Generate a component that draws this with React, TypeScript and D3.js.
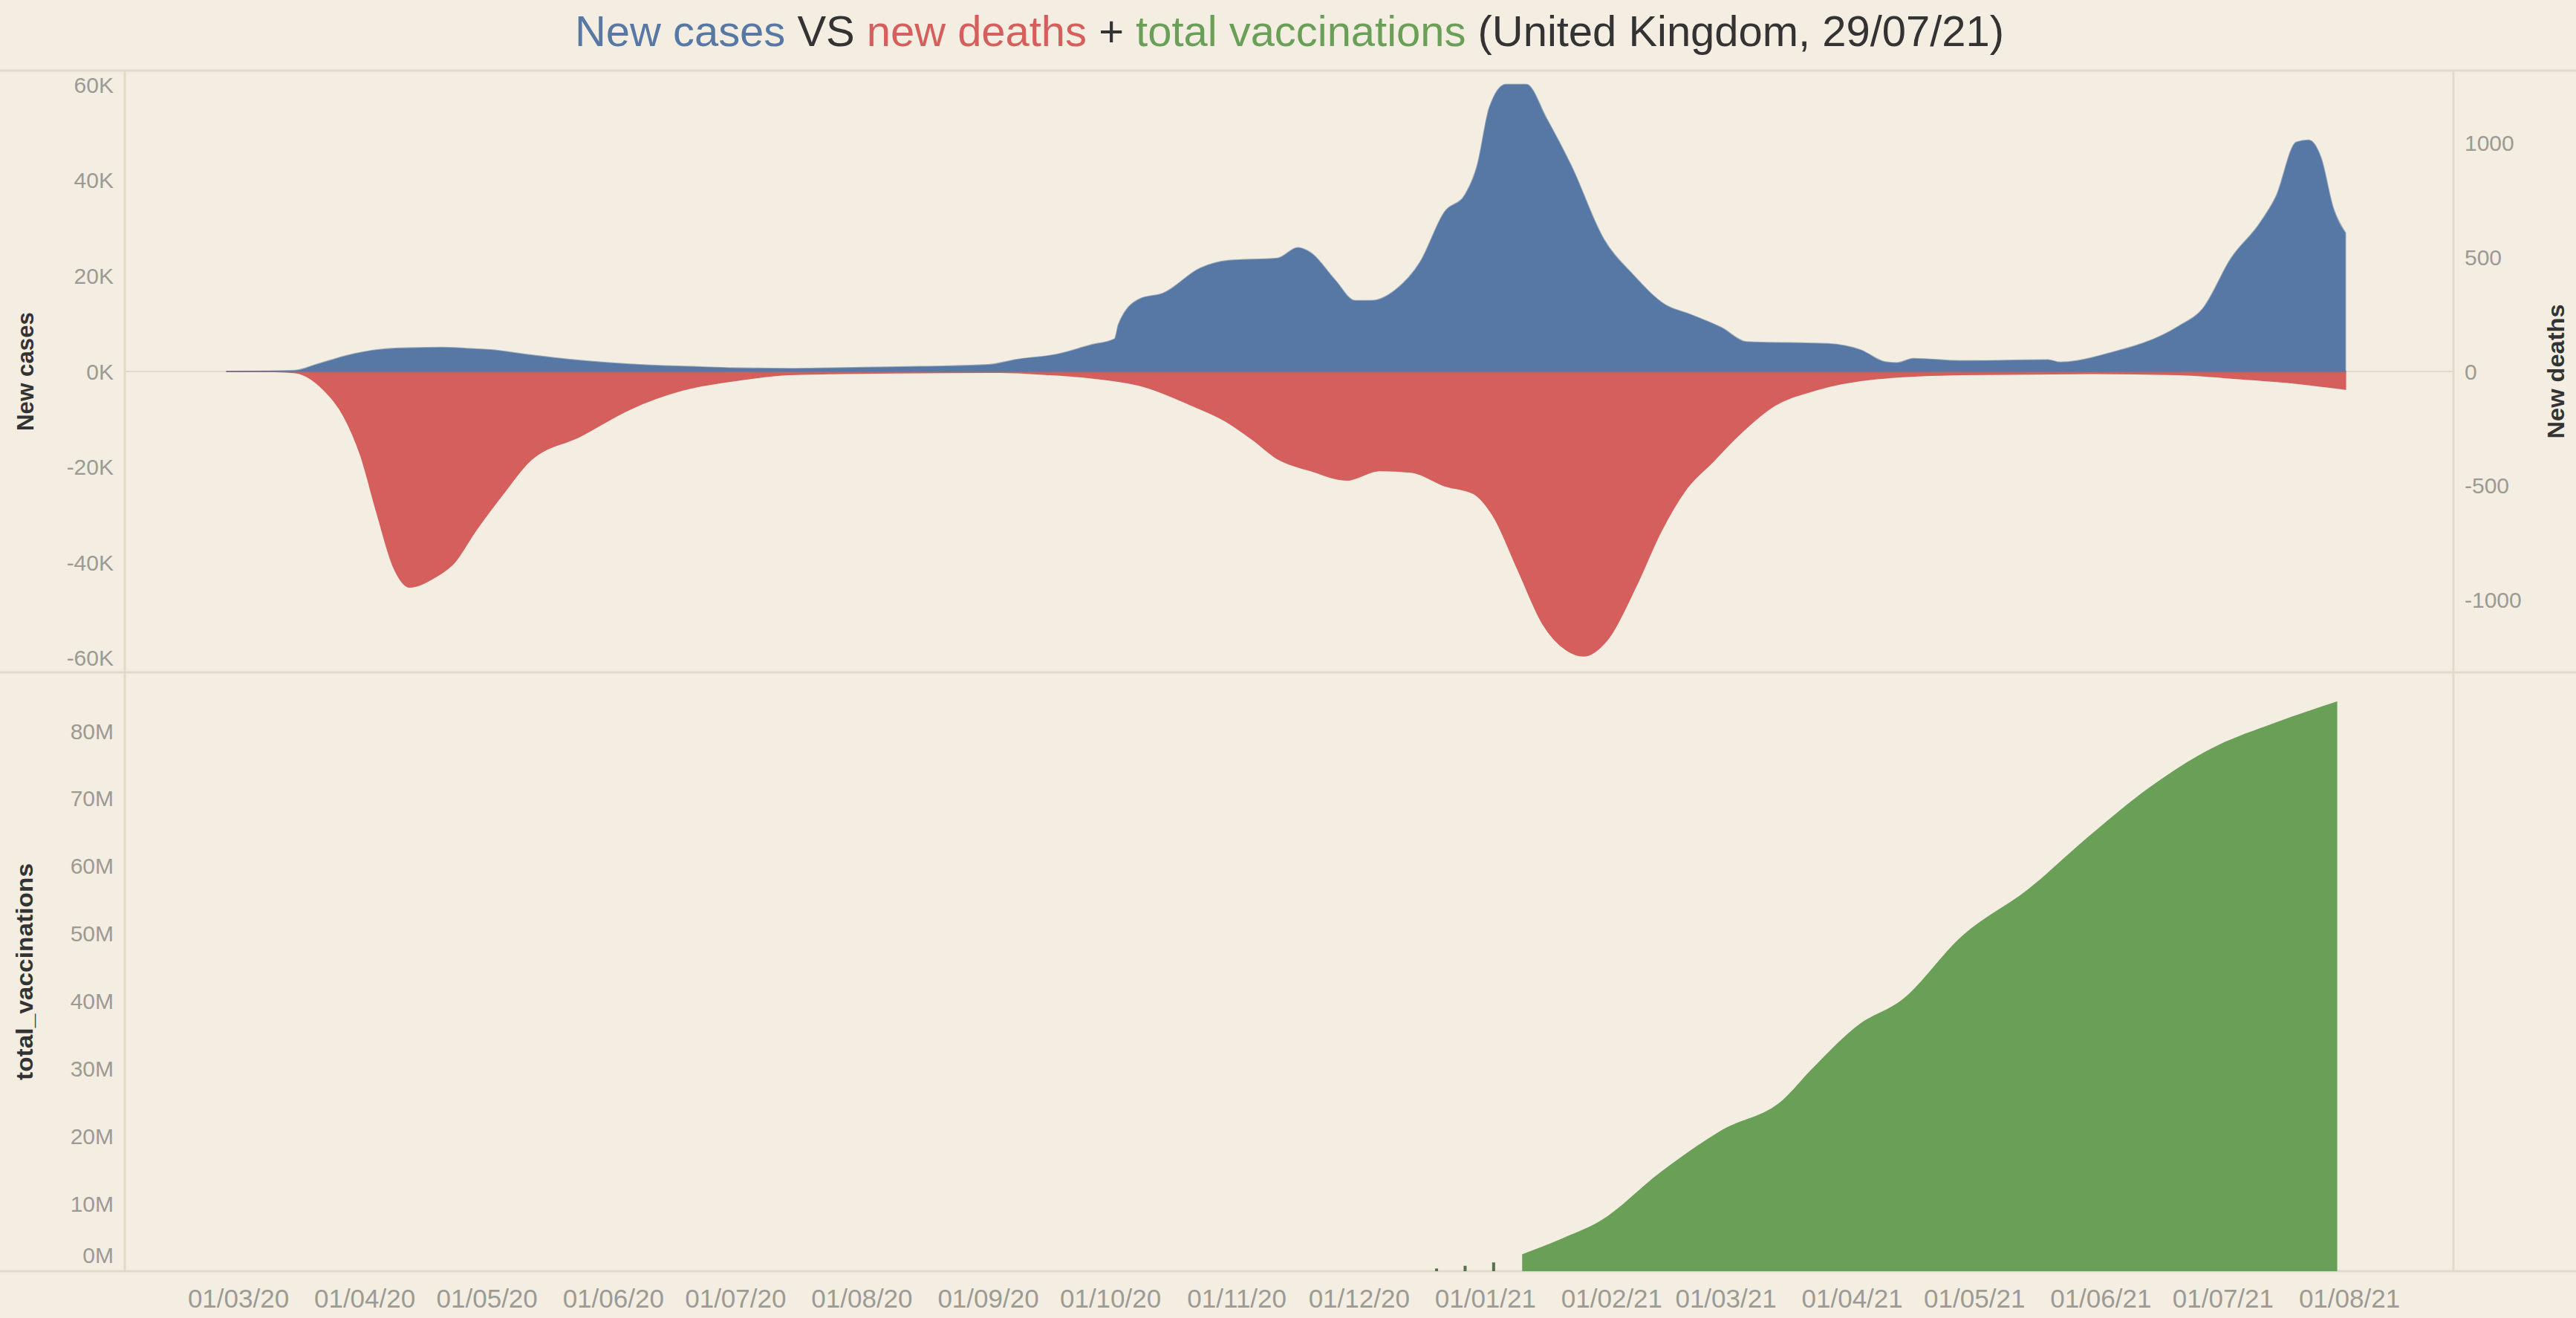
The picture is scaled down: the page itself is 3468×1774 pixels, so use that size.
import React from "react";
import * as d3 from "d3";

const W = 3468;
const H = 1774;

// new cases, 7-day average
const caseDates = [
  "2020-02-27", "2020-03-08", "2020-03-15", "2020-03-20", "2020-03-28", "2020-04-05", "2020-04-12",
  "2020-04-20", "2020-04-26", "2020-05-02", "2020-05-11", "2020-05-20", "2020-05-31", "2020-06-10",
  "2020-06-20", "2020-07-01", "2020-07-15", "2020-08-01", "2020-08-15", "2020-09-01", "2020-09-08",
  "2020-09-18", "2020-09-26", "2020-10-02", "2020-10-03", "2020-10-08", "2020-10-14", "2020-10-23",
  "2020-10-30", "2020-11-11", "2020-11-16", "2020-11-19", "2020-11-25", "2020-11-30", "2020-12-04",
  "2020-12-10", "2020-12-16", "2020-12-22", "2020-12-27", "2020-12-30", "2021-01-02", "2021-01-06",
  "2021-01-11", "2021-01-16", "2021-01-22", "2021-01-30", "2021-02-06", "2021-02-14", "2021-02-20",
  "2021-02-28", "2021-03-06", "2021-03-26", "2021-04-03", "2021-04-09", "2021-04-12", "2021-04-16",
  "2021-04-28", "2021-05-19", "2021-05-22", "2021-06-03", "2021-06-20", "2021-06-26", "2021-07-03",
  "2021-07-10", "2021-07-14", "2021-07-19", "2021-07-22", "2021-07-25", "2021-07-28", "2021-07-31",
];
const newCases = [
  0, 50, 200, 1400, 3400, 4600, 4900,
  5000, 4800, 4500, 3500, 2600, 1800, 1300,
  1000, 700, 600, 800, 1000, 1400, 2500,
  3600, 5500, 6800, 9900, 15100, 16400, 21600,
  23200, 23700, 25900, 24900, 19200, 14800, 14800,
  17100, 22900, 33400, 37000, 43100, 55300, 60100,
  60100, 52900, 43100, 27700, 20400, 14000, 12000,
  9100, 6200, 5800, 4500, 2000, 1800, 2700,
  2200, 2400, 1900, 3800, 9400, 13100, 23700,
  31000, 36600, 48000, 48400, 44700, 34200, 29000,
];

// new deaths, 7-day average
const deathDates = [
  "2020-02-27", "2020-03-10", "2020-03-15", "2020-03-22", "2020-03-27", "2020-03-31", "2020-04-04",
  "2020-04-08", "2020-04-12", "2020-04-18", "2020-04-23", "2020-04-28", "2020-05-05", "2020-05-11",
  "2020-05-24", "2020-06-05", "2020-06-18", "2020-07-01", "2020-07-14", "2020-07-27", "2020-08-15",
  "2020-09-04", "2020-09-15", "2020-09-28", "2020-10-09", "2020-10-21", "2020-10-29", "2020-11-05",
  "2020-11-11", "2020-11-19", "2020-11-28", "2020-12-06", "2020-12-14", "2020-12-22", "2020-12-29",
  "2021-01-03", "2021-01-09", "2021-01-15", "2021-01-21", "2021-01-25", "2021-01-31", "2021-02-07",
  "2021-02-13", "2021-02-19", "2021-02-26", "2021-03-04", "2021-03-13", "2021-03-23", "2021-04-07",
  "2021-04-28", "2021-05-30", "2021-06-20", "2021-07-05", "2021-07-21", "2021-07-31",
];
const newDeaths = [
  0, 0, 5, 81, 199, 366, 618,
  852, 943, 902, 835, 701, 533, 399,
  282, 165, 81, 39, 13, 8, 5,
  3, 12, 31, 64, 148, 214, 299,
  382, 433, 475, 433, 441, 500, 533,
  634, 868, 1102, 1220, 1245, 1171, 936,
  701, 520, 390, 280, 148, 81, 31,
  13, 8, 13, 31, 55, 77,
];

// total vaccinations, millions
const vaccDates = [
  "2021-01-10", "2021-01-20", "2021-01-29", "2021-02-13", "2021-02-28", "2021-03-15", "2021-03-22",
  "2021-04-03", "2021-04-13", "2021-04-28", "2021-05-14", "2021-05-29", "2021-06-13", "2021-06-28",
  "2021-07-14", "2021-07-29",
];
const totalVaccinations = [
  2.5, 4.9, 7.4, 14.7, 20.9, 25.4, 29.9,
  36.7, 40.1, 49.7, 56.5, 64.4, 71.7, 77.4,
  81.3, 84.4,
];
// isolated early reports
const earlyVaccDates = ["2020-12-20", "2020-12-27", "2021-01-03"];
const earlyVaccinations = [0.4, 0.8, 1.3];

const caseTicks = [-60000, -40000, -20000, 0, 20000, 40000, 60000];
const deathTicks = [-1000, -500, 0, 500, 1000];
const vaccTicks = [0, 10, 20, 30, 40, 50, 60, 70, 80];
const monthTicks = [
  "2020-03-01", "2020-04-01", "2020-05-01", "2020-06-01", "2020-07-01", "2020-08-01",
  "2020-09-01", "2020-10-01", "2020-11-01", "2020-12-01", "2021-01-01", "2021-02-01",
  "2021-03-01", "2021-04-01", "2021-05-01", "2021-06-01", "2021-07-01", "2021-08-01",
];

const BG = "#f3eee1";
const LINE = "#e0dacb";
const BLUE = "#5778a4";
const RED = "#d55f5d";
const GREEN = "#6a9f58";
const TICK = "#9c9a94";
const FONT = "'Liberation Sans', Arial, sans-serif";

const left = 168, right = 3303, top = 95, mid = 905, bottom = 1711;

export default function App() {
  const parse = d3.timeParse("%Y-%m-%d");
  const fmt = d3.timeFormat("%d/%m/%y");

  const x = d3.scaleTime()
    .domain([parse("2020-03-01")!, parse("2021-08-01")!])
    .range([321, 3163]);
  const yCases = d3.scaleLinear().domain([-63000, 63000]).range([mid, top]);
  const yDeaths = d3.scaleLinear().domain([-1317, 1317]).range([mid, top]);
  const yVacc = d3.scaleLinear().domain([0, 88.7]).range([bottom, mid]);

  const cases = caseDates.map((d, i) => [parse(d)!, newCases[i]] as [Date, number]);
  const deaths = deathDates.map((d, i) => [parse(d)!, -newDeaths[i]] as [Date, number]);
  const vacc = vaccDates.map((d, i) => [parse(d)!, totalVaccinations[i]] as [Date, number]);

  const casesArea = d3.area<[Date, number]>().curve(d3.curveMonotoneX)
    .x(d => x(d[0])).y0(yCases(0)).y1(d => yCases(d[1]));
  const deathsArea = d3.area<[Date, number]>().curve(d3.curveMonotoneX)
    .x(d => x(d[0])).y0(yDeaths(0)).y1(d => yDeaths(d[1]));
  const vaccArea = d3.area<[Date, number]>().curve(d3.curveMonotoneX)
    .x(d => x(d[0])).y0(yVacc(0)).y1(d => yVacc(d[1]));

  const kFmt = (v: number) => `${v / 1000}K`;

  return (
    <svg width={W} height={H} style={{ position: "fixed", left: 0, top: 0, fontFamily: FONT }}>
      <rect x={0} y={0} width={W} height={H} fill={BG} />

      {/* title */}
      <text x={1736} y={62} textAnchor="middle" fontSize={58} textLength={1924}
        lengthAdjust="spacingAndGlyphs" fill="#333">
        <tspan fill={BLUE}>New cases</tspan>
        <tspan> VS </tspan>
        <tspan fill={RED}>new deaths</tspan>
        <tspan> + </tspan>
        <tspan fill={GREEN}>total vaccinations</tspan>
        <tspan> (United Kingdom, 29/07/21)</tspan>
      </text>

      {/* pane borders */}
      <line x1={0} x2={W} y1={top} y2={top} stroke={LINE} strokeWidth={3} />
      <line x1={0} x2={W} y1={mid} y2={mid} stroke={LINE} strokeWidth={3} />
      <line x1={0} x2={W} y1={bottom} y2={bottom} stroke={LINE} strokeWidth={3} />
      <line x1={left} x2={left} y1={top} y2={bottom} stroke={LINE} strokeWidth={3} />
      <line x1={right} x2={right} y1={top} y2={bottom} stroke={LINE} strokeWidth={3} />
      <line x1={left} x2={right} y1={yCases(0)} y2={yCases(0)} stroke={LINE} strokeWidth={2} />

      {/* upper pane */}
      <path d={deathsArea(deaths)!} fill={RED} stroke={RED} strokeWidth={2} />
      <path d={casesArea(cases)!} fill={BLUE} stroke={BLUE} strokeWidth={2} strokeOpacity={0.6} />

      {/* lower pane */}
      <path d={vaccArea(vacc)!} fill={GREEN} />
      {earlyVaccDates.map((d, i) => (
        <rect key={d} x={x(parse(d)!) - 2} width={4}
          y={yVacc(earlyVaccinations[i])}
          height={yVacc(0) - yVacc(earlyVaccinations[i])} fill="#58704e" />
      ))}

      {/* left axis, cases */}
      {caseTicks.map(t => (
        <text key={t} x={153} y={yCases(t)} textAnchor="end" dominantBaseline="central"
          fontSize={30} fill={TICK}>{kFmt(t)}</text>
      ))}
      <text transform={`translate(34,${yCases(0)}) rotate(-90)`} textAnchor="middle"
        dominantBaseline="central" fontSize={31} fontWeight="bold" fill="#333"
        textLength={160} lengthAdjust="spacingAndGlyphs">New cases</text>

      {/* right axis, deaths */}
      {deathTicks.map(t => (
        <text key={t} x={3318} y={yDeaths(t)} textAnchor="start" dominantBaseline="central"
          fontSize={30} fill={TICK}>{t}</text>
      ))}
      <text transform={`translate(3441,${yDeaths(0)}) rotate(-90)`} textAnchor="middle"
        dominantBaseline="central" fontSize={31} fontWeight="bold" fill="#333"
        textLength={181} lengthAdjust="spacingAndGlyphs">New deaths</text>

      {/* left axis, vaccinations */}
      {vaccTicks.map(t => (
        <text key={t} x={153} y={Math.min(yVacc(t), bottom - 22)} textAnchor="end"
          dominantBaseline="central" fontSize={30} fill={TICK}>{`${t}M`}</text>
      ))}
      <text transform={`translate(33,${(mid + bottom) / 2}) rotate(-90)`} textAnchor="middle"
        dominantBaseline="central" fontSize={31} fontWeight="bold" fill="#333"
        textLength={292} lengthAdjust="spacingAndGlyphs">total_vaccinations</text>

      {/* date axis */}
      {monthTicks.map(t => (
        <text key={t} x={x(parse(t)!)} y={1760} textAnchor="middle" fontSize={35} fill={TICK}>
          {fmt(parse(t)!)}
        </text>
      ))}
    </svg>
  );
}
